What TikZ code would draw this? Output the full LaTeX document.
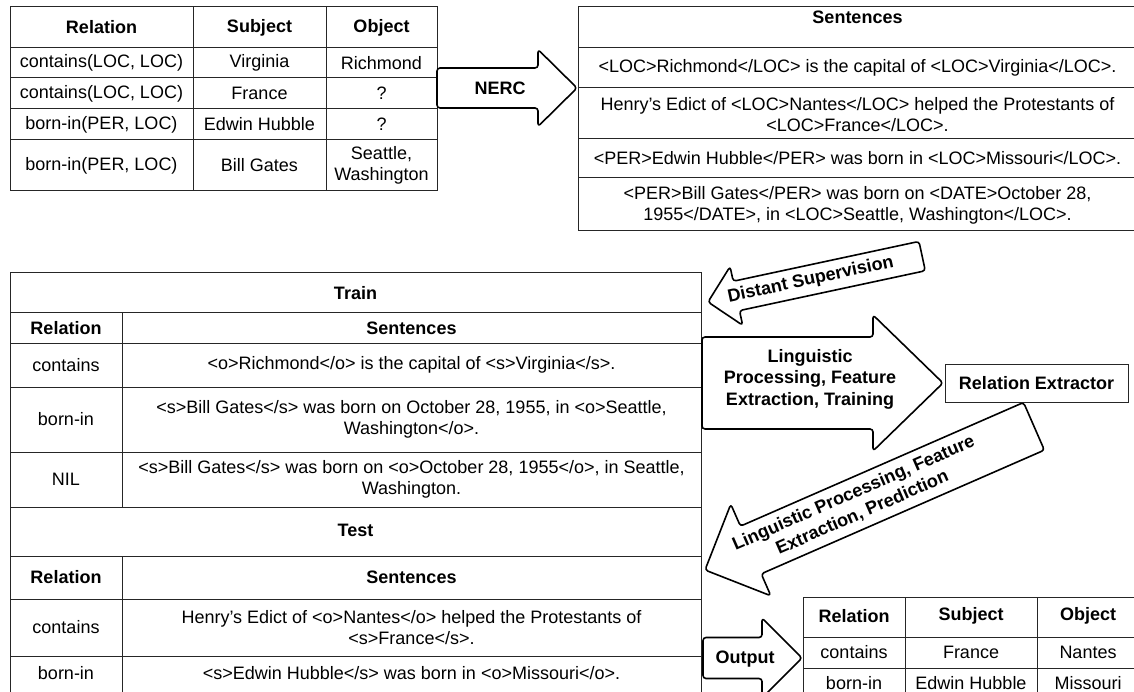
\documentclass[tikz,border=0pt]{standalone}
\usepackage{fontspec}
\setmainfont{Liberation Sans}
\begin{document}
\begin{tikzpicture}[x=1pt,y=-1pt,
  grid/.style={draw=black!85, line width=1pt},
  cell/.style={font=\fontsize{18}{21}\selectfont, align=center, inner sep=0pt},
  headcell/.style={font=\fontsize{18}{21}\selectfont\bfseries, align=center, inner sep=0pt},
  arrowbody/.style={draw=black, line width=1.6pt, fill=white, rounded corners=3pt, line join=round},
  arrowtext/.style={font=\fontsize{18}{21.5}\selectfont\bfseries, align=center, inner sep=0pt},
  pics/fatarrow/.style n args={4}{code={%
    % #1 length, #2 half shaft width, #3 half head width, #4 head length; tip at origin
    \draw[arrowbody] (0,0) -- (-#4,#3) -- (-#4,#2) -- (-#1,#2) -- (-#1,-#2)
      -- (-#4,-#2) -- (-#4,-#3) -- cycle;
  }},
]
\useasboundingbox[fill=white] (0,0) rectangle (1134,692);
\clip (0,0) rectangle (1134,692);

% ---------- known facts table ----------
\draw[grid] (10,7) rectangle (437,191);
\foreach \yy in {48,78,109,140} \draw[grid] (10,\yy) -- (437,\yy);
\foreach \xx in {193,326} \draw[grid] (\xx,7) -- (\xx,191);
\node[headcell] (kbR) at (101.5,27.5) {Relation};
\node[headcell] (kbS) at (259.5,27.5) {Subject};
\node[headcell] (kbO) at (381.5,27.5) {Object};
\node[cell] (kb1r) at (101.5,63) {contains(LOC, LOC)};
\node[cell] (kb1s) at (259.5,63) {Virginia};
\node[cell] (kb1o) at (381.5,63) {Richmond};
\node[cell] (kb2r) at (101.5,93.5) {contains(LOC, LOC)};
\node[cell] (kb2s) at (259.5,93.5) {France};
\node[cell] (kb2o) at (381.5,93.5) {?};
\node[cell] (kb3r) at (101.5,124.5) {born-in(PER, LOC)};
\node[cell] (kb3s) at (259.5,124.5) {Edwin Hubble};
\node[cell] (kb3o) at (381.5,124.5) {?};
\node[cell] (kb4r) at (101.5,165.5) {born-in(PER, LOC)};
\node[cell] (kb4s) at (259.5,165.5) {Bill Gates};
\node[cell] (kb4o) at (381.5,165.5) {Seattle,\\Washington};

% ---------- tagged sentences table ----------
\draw[grid] (578,7) rectangle (1137,231);
\foreach \yy in {48,88,139,178} \draw[grid] (578,\yy) -- (1137,\yy);
\node[headcell] (nsH) at (857.5,17) {Sentences};
\node[cell] (ns1) at (857.5,68) {<LOC>Richmond</LOC> is the capital of <LOC>Virginia</LOC>.};
\node[cell] (ns2) at (857.5,114.5) {Henry's Edict of <LOC>Nantes</LOC> helped the Protestants of\\<LOC>France</LOC>.};
\node[cell] (ns3) at (857.5,158.5) {<PER>Edwin Hubble</PER> was born in <LOC>Missouri</LOC>.};
\node[cell] (ns4) at (857.5,205) {<PER>Bill Gates</PER> was born on <DATE>October 28,\\1955</DATE>, in <LOC>Seattle, Washington</LOC>.};

% ---------- train / test table ----------
\draw[grid] (10,273) rectangle (701,693);
\foreach \yy in {313,343,387,452,507,556,599,656} \draw[grid] (10,\yy) -- (701,\yy);
\draw[grid] (122,313) -- (122,507);
\draw[grid] (122,556) -- (122,693);
\node[headcell] (trH) at (355.5,293) {Train};
\node[headcell] (trR) at (66,328) {Relation};
\node[headcell] (trS) at (411.5,328) {Sentences};
\node[cell] (tr1r) at (66,365) {contains};
\node[cell] (tr1s) at (411.5,365) {<o>Richmond</o> is the capital of <s>Virginia</s>.};
\node[cell] (tr2r) at (66,419.5) {born-in};
\node[cell] (tr2s) at (411.5,419.5) {<s>Bill Gates</s> was born on October 28, 1955, in <o>Seattle,\\Washington</o>.};
\node[cell] (tr3r) at (66,479.5) {NIL};
\node[cell] (tr3s) at (411.5,479.5) {<s>Bill Gates</s> was born on <o>October 28, 1955</o>, in Seattle,\\Washington.};
\node[headcell] (teH) at (355.5,530.5) {Test};
\node[headcell] (teR) at (66,577.5) {Relation};
\node[headcell] (teS) at (411.5,577.5) {Sentences};
\node[cell] (te1r) at (66,627.5) {contains};
\node[cell] (te1s) at (411.5,627.5) {Henry's Edict of <o>Nantes</o> helped the Protestants of\\<s>France</s>.};
\node[cell] (te2r) at (66,673) {born-in};
\node[cell] (te2s) at (411.5,673) {<s>Edwin Hubble</s> was born in <o>Missouri</o>.};

% ---------- extractor ----------
\node[draw=black!85, line width=1pt, minimum width=183pt, minimum height=38pt,
      font=\fontsize{18}{21}\selectfont\bfseries, inner sep=0pt] (rex) at (1036.5,383) {Relation Extractor};

% ---------- output table ----------
\draw[grid] (803,597) rectangle (1139,699);
\foreach \yy in {637,668} \draw[grid] (803,\yy) -- (1139,\yy);
\foreach \xx in {905,1037} \draw[grid] (\xx,597) -- (\xx,699);
\node[headcell] (otR) at (854,616) {Relation};
\node[headcell] (otS) at (971,616) {Subject};
\node[headcell] (otO) at (1088,616) {Object};
\node[cell] (ot1r) at (854,652.5) {contains};
\node[cell] (ot1s) at (971,652.5) {France};
\node[cell] (ot1o) at (1088,652.5) {Nantes};
\node[cell] (ot2r) at (854,683) {born-in};
\node[cell] (ot2s) at (971,683) {Edwin Hubble};
\node[cell] (ot2o) at (1088,683) {Missouri};

% ---------- block arrows ----------
\pic at (577,88) {fatarrow={140}{20}{38.5}{39}};
\node[arrowtext] (nerc) at (500,88) {NERC};

\begin{scope}[shift={(708,302)}, rotate=192.1]
  \pic[transform shape] at (0,0) {fatarrow={219}{15}{30}{29}};
  \node[arrowtext, rotate=12.1] (ds) at (-105,0) {Distant Supervision};
\end{scope}

\pic at (943,383) {fatarrow={241}{46}{68}{70}};
\node[arrowtext] (train) at (810,379) {Linguistic\\Processing, Feature\\Extraction, Training};

\begin{scope}[shift={(705,570)}, rotate=203.6]
  \pic[transform shape] at (0,0) {fatarrow={359}{26}{50}{50}};
  \node[arrowtext, rotate=23.6] (pred) at (-167,0) {Linguistic Processing, Feature\\Extraction, Prediction};
\end{scope}

\pic at (802,658) {fatarrow={99}{20.5}{40}{40}};
\node[arrowtext] (out) at (745,659) {Output};
\end{tikzpicture}
\end{document}
